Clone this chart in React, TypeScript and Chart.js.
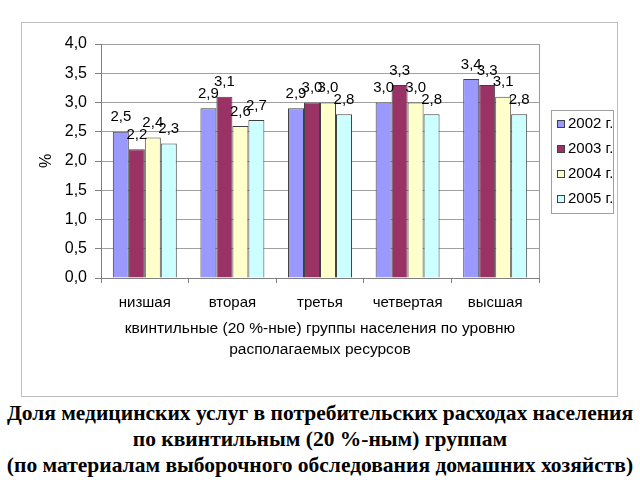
import React, { useEffect, useRef } from 'react';
import { Chart, registerables } from 'chart.js';

Chart.register(...registerables);

const categories = ['низшая', 'вторая', 'третья', 'четвертая', 'высшая'];
const seriesLabels = ['2002 г.', '2003 г.', '2004 г.', '2005 г.'];
const values2002 = [2.5, 2.9, 2.9, 3.0, 3.4];
const values2003 = [2.2, 3.1, 3.0, 3.3, 3.3];
const values2004 = [2.4, 2.6, 3.0, 3.0, 3.1];
const values2005 = [2.3, 2.7, 2.8, 2.8, 2.8];
const seriesColors = ['#9999FF', '#993366', '#FFFFCC', '#CCFFFF'];
const yTitle = '%';
const xTitle = ['квинтильные (20 %-ные) группы населения по уровню', 'располагаемых ресурсов'];
const caption = [
  'Доля медицинских услуг в потребительских расходах населения',
  'по квинтильным (20 %-ным) группам',
  '(по материалам выборочного обследования домашних хозяйств)',
];

const FONT = "'Liberation Sans', Arial, sans-serif";

const fmt = (v: number) => v.toFixed(1).replace('.', ',');

const labelsPlugin = {
  id: 'valueLabels',
  afterDatasetsDraw(chart: any) {
    const ctx = chart.ctx;
    ctx.save();
    ctx.font = `15px ${FONT}`;
    ctx.fillStyle = '#000';
    ctx.textAlign = 'center';
    ctx.textBaseline = 'bottom';
    chart.data.datasets.forEach((ds: any, i: number) => {
      const meta = chart.getDatasetMeta(i);
      meta.data.forEach((el: any, j: number) => {
        ctx.fillText(fmt(ds.data[j]), el.x, el.y - 7);
      });
    });
    ctx.restore();
  },
};

const framePlugin = {
  id: 'frameAndLegend',
  afterDraw(chart: any) {
    const ctx = chart.ctx;
    const a = chart.chartArea;
    ctx.save();
    ctx.strokeStyle = '#9a9a9a';
    ctx.lineWidth = 1;
    ctx.beginPath();
    ctx.moveTo(Math.round(a.right) + 0.5, a.top);
    ctx.lineTo(Math.round(a.right) + 0.5, a.bottom);
    ctx.stroke();
    const lx = Math.round(a.right) + 12;
    const lw = 62;
    const lh = 103;
    const ly = Math.round((a.top + a.bottom) / 2 - lh / 2);
    ctx.strokeStyle = '#a0a0a0';
    ctx.strokeRect(lx + 0.5, ly + 0.5, lw, lh);
    ctx.font = `15px ${FONT}`;
    ctx.textAlign = 'left';
    ctx.textBaseline = 'middle';
    chart.data.datasets.forEach((ds: any, i: number) => {
      const cy = ly + 14 + i * 25;
      ctx.fillStyle = ds.backgroundColor;
      ctx.fillRect(lx + 6, cy - 4, 8, 8);
      ctx.strokeStyle = '#404040';
      ctx.strokeRect(lx + 6.5, cy - 3.5, 7, 7);
      ctx.fillStyle = '#000';
      ctx.fillText(ds.label, lx + 17, cy);
    });
    ctx.restore();
  },
};

export default function App() {
  const ref = useRef<HTMLCanvasElement | null>(null);

  useEffect(() => {
    if (!ref.current) return;
    const series = [values2002, values2003, values2004, values2005];
    const chart = new Chart(ref.current, {
      type: 'bar',
      data: {
        labels: categories,
        datasets: series.map((d, i) => ({
          label: seriesLabels[i],
          data: d,
          backgroundColor: seriesColors[i],
          borderColor: '#404040',
          borderWidth: 1,
          categoryPercentage: 0.73,
          barPercentage: 1,
        })),
      },
      options: {
        animation: false,
        responsive: false,
        maintainAspectRatio: false,
        layout: { padding: { left: 0, top: 21, right: 78, bottom: 36 } },
        plugins: {
          legend: { display: false },
          tooltip: { enabled: false },
          title: { display: false },
        },
        scales: {
          x: {
            afterFit: (s: any) => { s.height = 82; },
            grid: {
              drawOnChartArea: false,
              drawTicks: true,
              tickLength: 5,
              color: '#808080',
            },
            border: { display: true, color: '#808080' },
            ticks: {
              color: '#000',
              padding: 11,
              font: { family: FONT, size: 15 },
            },
            title: {
              display: true,
              text: xTitle,
              color: '#000',
              font: { family: FONT, size: 15.5, lineHeight: '21px' },
              padding: { top: 4, bottom: 0 },
            },
          },
          y: {
            min: 0,
            max: 4,
            afterFit: (s: any) => { s.width = 79; },
            ticks: {
              stepSize: 0.5,
              color: '#000',
              padding: 8,
              font: { family: FONT, size: 16 },
              callback: (v: any) => fmt(Number(v)),
            },
            grid: {
              color: '#a0a0a0',
              drawTicks: true,
              tickLength: 6,
              tickColor: '#808080',
            },
            border: { display: true, color: '#808080' },
            title: {
              display: true,
              text: yTitle,
              color: '#000',
              font: { family: FONT, size: 16 },
              padding: { top: 15, bottom: 0 },
            },
          },
        },
      },
      plugins: [labelsPlugin, framePlugin],
    });
    return () => chart.destroy();
  }, []);

  return (
    <div style={{ position: 'absolute', left: 0, top: 0, width: 640, height: 480, background: '#fff' }}>
      <div
        style={{
          position: 'absolute',
          left: 21,
          top: 22,
          width: 595,
          height: 373,
          border: '1px solid #bdbdbd',
        }}
      >
        <canvas ref={ref} width={595} height={373} style={{ display: 'block', width: 595, height: 373 }} />
      </div>
      <div
        style={{
          position: 'absolute',
          left: 0,
          top: 400,
          width: 640,
          textAlign: 'center',
          fontFamily: "'Liberation Serif', 'Times New Roman', serif",
          fontWeight: 'bold',
          fontSize: 21.5,
          lineHeight: '26px',
          color: '#000',
          whiteSpace: 'nowrap',
        }}
      >
        {caption.map((c, i) => (
          <div key={i}>{c}</div>
        ))}
      </div>
    </div>
  );
}
